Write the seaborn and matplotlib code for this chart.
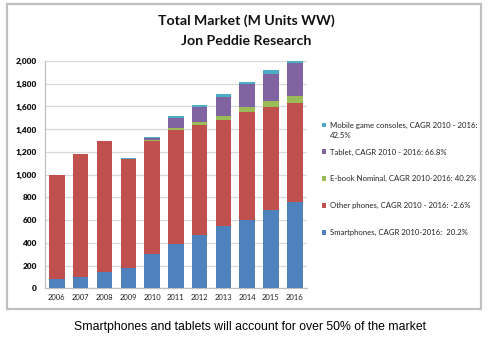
import numpy as np
import pandas as pd
import matplotlib
matplotlib.use("Agg")
import matplotlib.pyplot as plt
from matplotlib.patches import Patch, Rectangle
import seaborn as sns

years = ["2006", "2007", "2008", "2009", "2010", "2011", "2012", "2013", "2014", "2015", "2016"]
smartphones = [80, 100, 140, 180, 305, 390, 470, 550, 600, 690, 757]
other_phones = [920, 1080, 1152, 955, 990, 1000, 965, 930, 950, 905, 876]
ebook = [0, 0, 4, 0, 10, 23, 29, 38, 44, 52, 62]
tablet = [0, 0, 0, 0, 20, 83, 132, 167, 200, 243, 285]
mobile_consoles = [0, 0, 0, 14, 10, 20, 21, 24, 23, 27, 20]

series_labels = [
    "Smartphones, CAGR 2010-2016:  20.2%",
    "Other phones, CAGR 2010 - 2016: -2.6%",
    "E-book Nominal, CAGR 2010-2016: 40.2%",
    "Tablet, CAGR 2010 - 2016: 66.8%",
    "Mobile game consoles, CAGR 2010 - 2016:",
]
mobile_label_wrap = "42.5%"
series_colors = ["#4F81BD", "#C0504D", "#9BBB59", "#8064A2", "#4BACC6"]
series_values = [smartphones, other_phones, ebook, tablet, mobile_consoles]

sns.set_theme(style="white")
plt.rcParams["font.family"] = ["Lato", "DejaVu Sans"]

W, H = 488, 337
fig = plt.figure(figsize=(W / 100, H / 100), dpi=100)
ax = fig.add_axes([45 / W, 1 - 288.3 / H, (306.7 - 45) / W, (288.3 - 61) / H])

# stacked bars: draw cumulative totals from the top layer down
cumulative = np.cumsum(np.array(series_values, dtype=float), axis=0)
for i in range(len(series_values) - 1, -1, -1):
    df = pd.DataFrame({"year": years, "value": cumulative[i]})
    sns.barplot(data=df, x="year", y="value", color=series_colors[i],
                saturation=1, width=0.65, ax=ax, linewidth=0, zorder=3)

ax.set_xlim(-0.5, len(years) - 0.5)
ax.set_ylim(0, 2000)
ax.set_yticks(range(0, 2001, 200))
ax.set_yticklabels([f"{v:,}" for v in range(0, 2001, 200)], fontsize=6, fontweight="heavy", color="#111111")
ax.tick_params(axis="x", labelsize=5.5, colors="#222222", length=0, pad=4)
ax.tick_params(axis="y", length=0, pad=6)
ax.set_xlabel("")
ax.set_ylabel("")
ax.yaxis.grid(True, color="#d9d9d9", linewidth=0.9, zorder=0)
ax.set_axisbelow(True)
for side in ["top", "right"]:
    ax.spines[side].set_visible(False)
for side in ["left", "bottom"]:
    ax.spines[side].set_color("#bfbfbf")
    ax.spines[side].set_linewidth(0.9)

handles = [Patch(facecolor=c, edgecolor="none") for c in series_colors][::-1]
leg = fig.legend(handles, series_labels[::-1], loc="upper left",
                 bbox_to_anchor=(319 / W, 1 - 118.5 / H), frameon=False,
                 fontsize=5.6, handlelength=0.55, handleheight=0.55,
                 handletextpad=0.4, labelspacing=2.55, borderaxespad=0)
for t in leg.get_texts():
    t.set_color("#222222")

# second line of the wrapped legend label, placed under the first entry's text
fig.canvas.draw()
first = leg.get_texts()[0].get_window_extent()
fig.text(first.x0 / W, (first.y0 - 3) / H, mobile_label_wrap, ha="left", va="top",
         fontsize=5.6, color="#222222")

fig.text(246 / W, 1 - 20.5 / H, "Total Market (M Units WW)", ha="center", va="center",
         fontsize=10.2, fontweight="bold", color="#111111")
fig.text(246 / W, 1 - 41 / H, "Jon Peddie Research", ha="center", va="center",
         fontsize=10.2, fontweight="bold", color="#111111")

fig.add_artist(Rectangle((7 / W, 1 - 309 / H), (481 - 7) / W, (309 - 4) / H,
                         transform=fig.transFigure, fill=False, edgecolor="#bfbfbf", linewidth=1.6))

fig.text(250 / W, 1 - 327 / H, "Smartphones and tablets will account for over 50% of the market",
         ha="center", va="center", fontsize=8.8, family=["Liberation Sans", "DejaVu Sans"], color="#000000")

fig.savefig("out.png", dpi=100, facecolor="white")
